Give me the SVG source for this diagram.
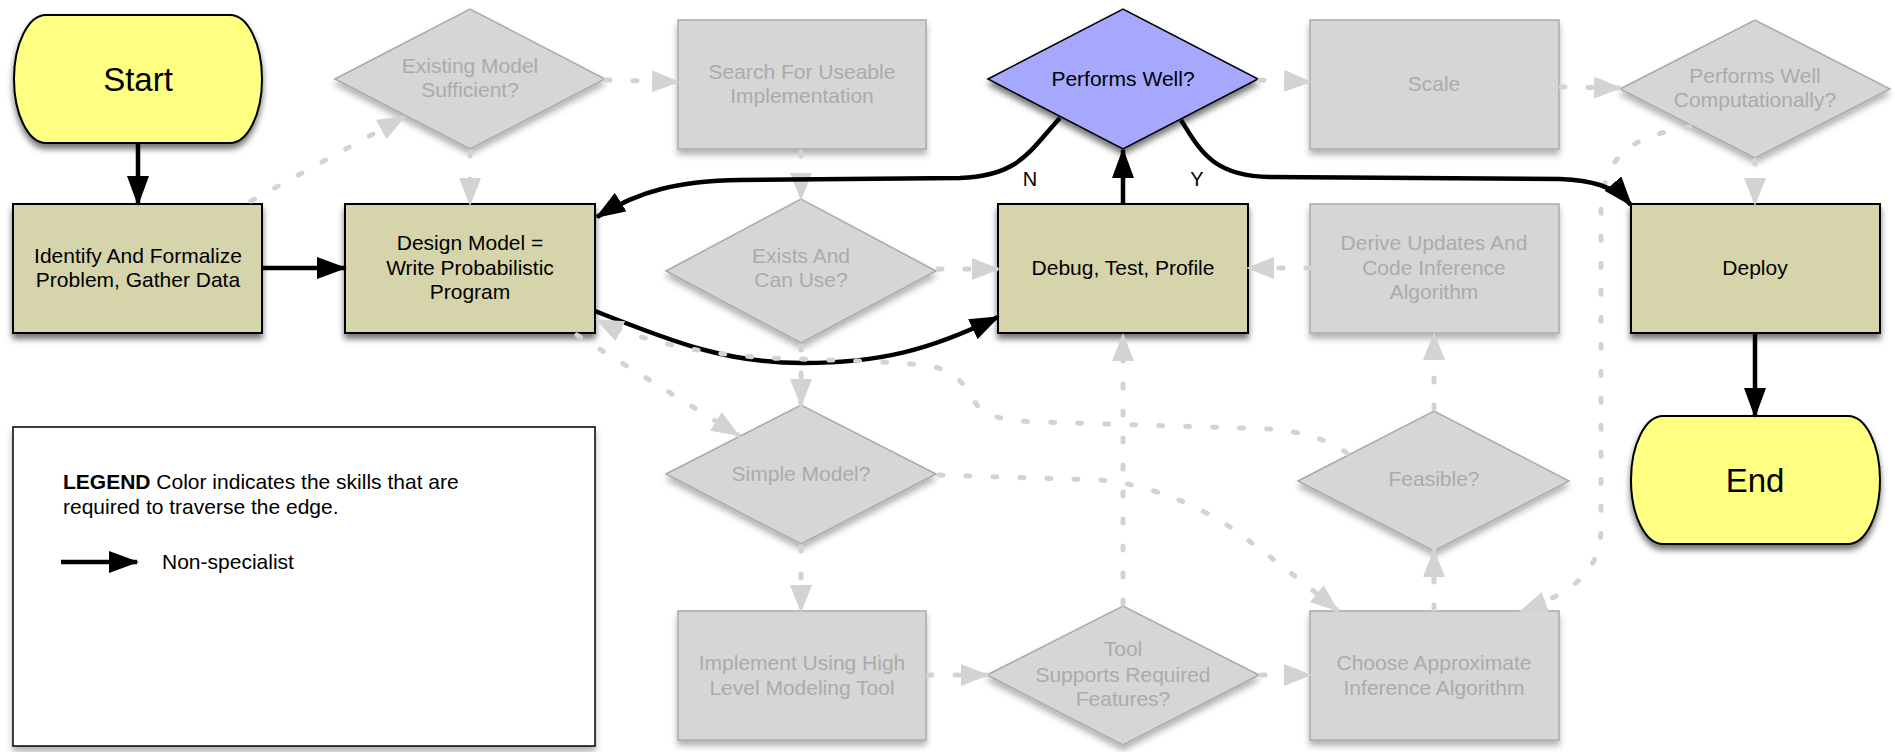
<svg xmlns="http://www.w3.org/2000/svg" width="1895" height="752" viewBox="0 0 1895 752">
<style>
.t{font-family:"Liberation Sans",Arial,Helvetica,sans-serif;font-size:21px;text-anchor:middle;fill:#000}
.tg{fill:#ababab}
.big{font-size:33px}
.beige{fill:#d6d4aa;stroke:#000;stroke-width:2}
.yel{fill:#ffff82;stroke:#000;stroke-width:2}
.blue{fill:#a6a8fd;stroke:#000;stroke-width:1.5}
.gray{fill:#d6d6d6;stroke:#aaaaaa;stroke-width:1.5}
.blk{fill:none;stroke:#000;stroke-width:4.5;marker-end:url(#ab)}
.dsh{fill:none;stroke:#d3d3d3;stroke-width:5;stroke-dasharray:4 23;stroke-linecap:round;marker-end:url(#ag)}
</style>
<defs>
<filter id="sh" x="-10%" y="-10%" width="125%" height="135%"><feDropShadow dx="0" dy="5" stdDeviation="3" flood-color="#000" flood-opacity="0.55"/></filter>
<filter id="shg" x="-10%" y="-10%" width="125%" height="135%"><feDropShadow dx="0" dy="5" stdDeviation="3" flood-color="#000" flood-opacity="0.3"/></filter>
<marker id="ab" markerUnits="userSpaceOnUse" viewBox="0 0 30 22" markerWidth="30" markerHeight="22" refX="28" refY="11" orient="auto"><path d="M0,0 L30,11 L0,22 Z" fill="#000"/></marker>
<marker id="ag" markerUnits="userSpaceOnUse" viewBox="0 0 28 22" markerWidth="28" markerHeight="22" refX="26" refY="11" orient="auto"><path d="M0,0 L28,11 L0,22 Z" fill="#d3d3d3"/></marker>
</defs>
<rect width="1895" height="752" fill="#fff"/>

<g id="legend">
<rect x="13" y="427" width="582" height="319" fill="#fff" stroke="#000" stroke-width="1.5" filter="url(#shg)"/>
<text class="t" x="63" y="489" style="text-anchor:start"><tspan font-weight="bold">LEGEND</tspan> Color indicates the skills that are</text>
<text class="t" x="63" y="514" style="text-anchor:start">required to traverse the edge.</text>
<path d="M61,562 L137,562" class="blk"/>
<text class="t" x="162" y="569" style="text-anchor:start">Non-specialist</text>
</g>

<g id="start"><path class="yel" filter="url(#sh)" d="M46,15 H230 A32,64 0 0 1 262,79 A32,64 0 0 1 230,143 H46 A32,64 0 0 1 14,79 A32,64 0 0 1 46,15 Z"/><text class="t big" x="138" y="91">Start</text></g>
<g id="identify"><rect class="beige" filter="url(#sh)" x="13" y="204" width="249" height="129"/><text class="t" x="138" y="263">Identify And Formalize</text><text class="t" x="138" y="287">Problem, Gather Data</text></g>
<g id="design"><rect class="beige" filter="url(#sh)" x="345" y="204" width="250" height="129"/><text class="t" x="470" y="250">Design Model =</text><text class="t" x="470" y="275">Write Probabilistic</text><text class="t" x="470" y="299">Program</text></g>
<g id="existing"><polygon class="gray" filter="url(#shg)" points="335,79 470,9 605,79 470,149"/><text class="t tg" x="470" y="73">Existing Model</text><text class="t tg" x="470" y="97">Sufficient?</text></g>
<g id="search"><rect class="gray" filter="url(#shg)" x="678" y="20" width="248" height="129"/><text class="t tg" x="802" y="79">Search For Useable</text><text class="t tg" x="802" y="103">Implementation</text></g>
<g id="exists"><polygon class="gray" filter="url(#shg)" points="666,271 801,199 936,271 801,343"/><text class="t tg" x="801" y="263">Exists And</text><text class="t tg" x="801" y="287">Can Use?</text></g>
<g id="debug"><rect class="beige" filter="url(#sh)" x="998" y="204" width="250" height="129"/><text class="t" x="1123" y="275">Debug, Test, Profile</text></g>
<g id="performs"><polygon class="blue" filter="url(#sh)" points="988,79 1123,9 1258,79 1123,149"/><text class="t" x="1123" y="86">Performs Well?</text></g>
<g id="scale"><rect class="gray" filter="url(#shg)" x="1310" y="20" width="249" height="129"/><text class="t tg" x="1434" y="91">Scale</text></g>
<g id="pwc"><polygon class="gray" filter="url(#shg)" points="1620,89 1755,20 1890,89 1755,158"/><text class="t tg" x="1755" y="83">Performs Well</text><text class="t tg" x="1755" y="107">Computationally?</text></g>
<g id="derive"><rect class="gray" filter="url(#shg)" x="1310" y="204" width="249" height="129"/><text class="t tg" x="1434" y="250">Derive Updates And</text><text class="t tg" x="1434" y="275">Code Inference</text><text class="t tg" x="1434" y="299">Algorithm</text></g>
<g id="deploy"><rect class="beige" filter="url(#sh)" x="1631" y="204" width="249" height="129"/><text class="t" x="1755" y="275">Deploy</text></g>
<g id="simple"><polygon class="gray" filter="url(#shg)" points="666,474 801,405 936,474 801,544"/><text class="t tg" x="801" y="481">Simple Model?</text></g>
<g id="feasible"><polygon class="gray" filter="url(#shg)" points="1298,481 1434,411 1569,481 1434,551"/><text class="t tg" x="1434" y="486">Feasible?</text></g>
<g id="end"><path class="yel" filter="url(#sh)" d="M1663,416 H1848 A32,64 0 0 1 1880,480 A32,64 0 0 1 1848,544 H1663 A32,64 0 0 1 1631,480 A32,64 0 0 1 1663,416 Z"/><text class="t big" x="1755" y="492">End</text></g>
<g id="implement"><rect class="gray" filter="url(#shg)" x="678" y="611" width="248" height="129"/><text class="t tg" x="802" y="670">Implement Using High</text><text class="t tg" x="802" y="695">Level Modeling Tool</text></g>
<g id="tool"><polygon class="gray" filter="url(#shg)" points="987,675 1123,606 1259,675 1123,745"/><text class="t tg" x="1123" y="656">Tool</text><text class="t tg" x="1123" y="682">Supports Required</text><text class="t tg" x="1123" y="706">Features?</text></g>
<g id="choose"><rect class="gray" filter="url(#shg)" x="1310" y="611" width="249" height="129"/><text class="t tg" x="1434" y="670">Choose Approximate</text><text class="t tg" x="1434" y="695">Inference Algorithm</text></g>

<g id="connectors">
<path class="dsh" d="M251,201 L404,117"/>
<path class="dsh" d="M606,80 L678,82"/>
<path class="dsh" d="M470,152 L470,204"/>
<path class="dsh" d="M801,152 L801,199"/>
<path class="dsh" d="M938,269 L998,269"/>
<path class="dsh" d="M801,346 L801,405"/>
<path class="dsh" d="M577,335 L738,435"/>
<path class="dsh" d="M801,547 L801,611"/>
<path class="dsh" d="M928,675 L987,675"/>
<path class="dsh" d="M1261,675 L1310,675"/>
<path class="dsh" d="M1123,604 L1123,335"/>
<path class="dsh" d="M939,475 L1100,480 C1130,482 1180,495 1227,525 C1260,548 1300,580 1337,610"/>
<path class="dsh" d="M1434,609 L1434,551"/>
<path class="dsh" d="M1434,409 L1434,334"/>
<path class="dsh" d="M1310,268 L1248,268"/>
<path class="dsh" d="M1260,80 L1310,82"/>
<path class="dsh" d="M1561,87 L1620,88"/>
<path class="dsh" d="M1755,160 L1755,204"/>
<path class="dsh" d="M1690,127 C1640,135 1603,150 1601,210 L1601,530 C1600,570 1575,592 1521,611"/>
<path class="blk" d="M138,143 L138,204"/>
<path class="blk" d="M262,268 L345,268"/>
<path class="blk" d="M1123,204 L1123,150"/>
<path class="blk" d="M1060,118 C1030,150 1020,176 960,178 L740,180 C680,181 640,190 597,217"/>
<path class="blk" d="M1181,120 C1200,150 1212,176 1270,177 L1560,179 C1590,180 1615,186 1631,205"/>
<path class="blk" d="M595,311 C680,345 730,363 803,363 C880,363 930,350 998,317"/>
<path class="blk" d="M1755,333 L1755,416"/>
<path class="dsh" d="M1347,453 C1320,435 1290,428 1240,428 L1040,422 C1000,421 985,415 977,405 C968,393 962,372 930,366 C900,362 860,361 800,359 C740,358 660,350 597,320"/>
<text class="t" x="1030" y="186" style="font-size:20px">N</text>
<text class="t" x="1197" y="186" style="font-size:20px">Y</text>
</g>
</svg>
